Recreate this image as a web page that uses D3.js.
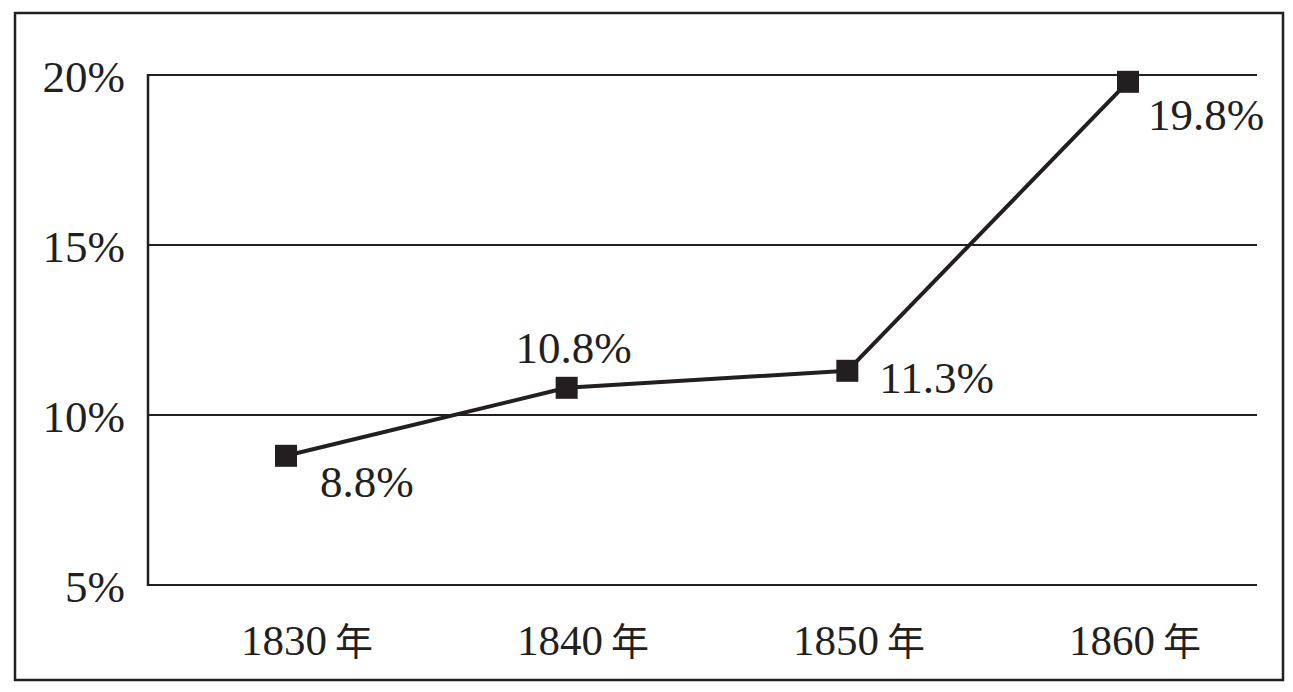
<!DOCTYPE html>
<html>
<head>
<meta charset="utf-8">
<script src="https://cdn.jsdelivr.net/npm/d3@7"></script>
<style>
  html, body { margin: 0; padding: 0; background: #fff; }
  svg { display: block; }
  text { font-family: "Liberation Serif", "Times New Roman", serif; fill: #231f20; }
</style>
</head>
<body>
<svg id="chart" width="1293" height="692"></svg>
<script>
const years = ["1830", "1840", "1850", "1860"];
const yearSuffix = "年";
const values = [8.8, 10.8, 11.3, 19.8];
const valueLabels = ["8.8%", "10.8%", "11.3%", "19.8%"];
const yTicks = [5, 10, 15, 20];
const yTickLabels = ["5%", "10%", "15%", "20%"];

const ink = "#231f20";
const svg = d3.select("#chart");

// outer frame
svg.append("rect")
  .attr("x", 15).attr("y", 13)
  .attr("width", 1268).attr("height", 667)
  .attr("fill", "none").attr("stroke", ink).attr("stroke-width", 2.5);

const plotLeft = 148, plotRight = 1257;
const y = d3.scaleLinear().domain([5, 20]).range([585, 75]);
const x = d3.scalePoint().domain(years).range([286, 1128]);
const xLabel = d3.scalePoint().domain(years).range([307, 1135]);

// gridlines
svg.append("g").selectAll("line").data(yTicks).join("line")
  .attr("x1", plotLeft).attr("x2", plotRight)
  .attr("y1", d => y(d)).attr("y2", d => y(d))
  .attr("stroke", ink).attr("stroke-width", 2);

// left axis line
svg.append("line")
  .attr("x1", plotLeft).attr("x2", plotLeft)
  .attr("y1", y(20) - 1).attr("y2", y(5) + 1)
  .attr("stroke", ink).attr("stroke-width", 2.5);

// y tick labels
svg.append("g").selectAll("text").data(yTicks).join("text")
  .attr("x", 125)
  .attr("y", d => y(d) + 17)
  .attr("text-anchor", "end")
  .attr("font-size", 45)
  .text((d, i) => yTickLabels[i]);

// x labels
const xl = svg.append("g").selectAll("text").data(years).join("text")
  .attr("x", d => xLabel(d))
  .attr("y", 655)
  .attr("text-anchor", "middle")
  .attr("font-size", 43);
xl.append("tspan").text(d => d);
xl.append("tspan").attr("dx", 8)
  .style("font-family", "'Noto Sans CJK SC', sans-serif")
  .attr("font-size", 38)
  .text(yearSuffix);

// line
const pts = years.map((d, i) => [x(d), y(values[i])]);
svg.append("path")
  .attr("d", d3.line()(pts))
  .attr("fill", "none").attr("stroke", ink).attr("stroke-width", 4)
  .attr("stroke-linejoin", "round");

// markers
const ms = 22;
svg.append("g").selectAll("rect").data(pts).join("rect")
  .attr("x", d => d[0] - ms / 2).attr("y", d => d[1] - ms / 2)
  .attr("width", ms).attr("height", ms)
  .attr("fill", ink);

// value labels
const offsets = [
  { dx: 34, dy: 41, anchor: "start" },
  { dx: 7, dy: -25, anchor: "middle" },
  { dx: 32, dy: 22, anchor: "start" },
  { dx: 20, dy: 48, anchor: "start" }
];
svg.append("g").selectAll("text").data(pts).join("text")
  .attr("x", (d, i) => d[0] + offsets[i].dx)
  .attr("y", (d, i) => d[1] + offsets[i].dy)
  .attr("text-anchor", (d, i) => offsets[i].anchor)
  .attr("font-size", 45)
  .text((d, i) => valueLabels[i]);
</script>
</body>
</html>
